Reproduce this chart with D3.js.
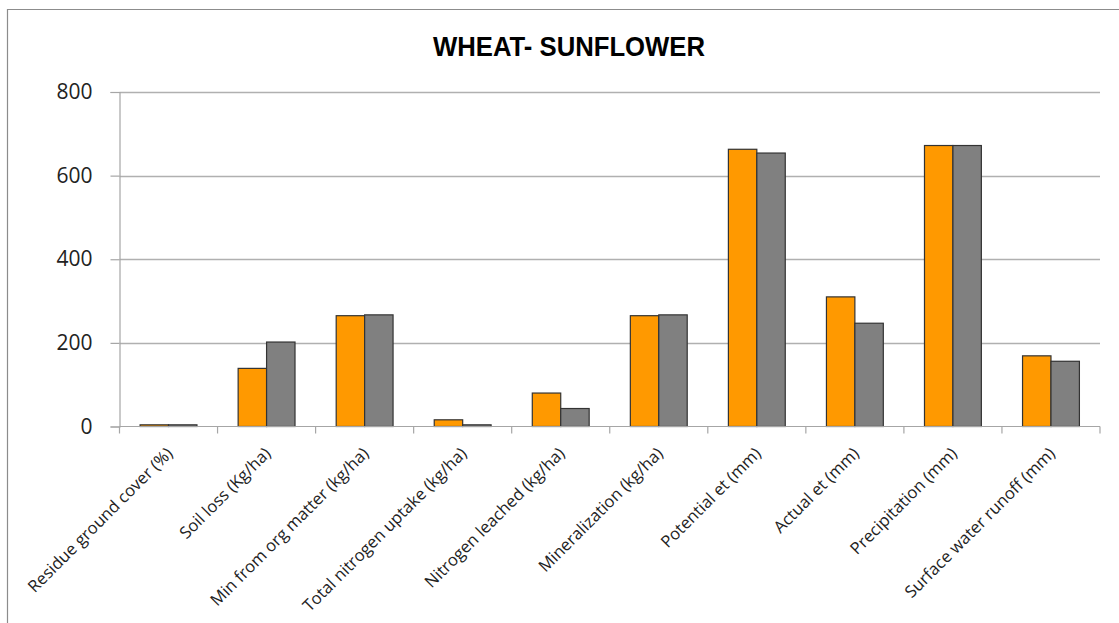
<!DOCTYPE html>
<html>
<head>
<meta charset="utf-8">
<script src="https://cdn.jsdelivr.net/npm/d3@7"></script>
<style>
  html, body { margin: 0; padding: 0; background: #fff; }
  svg { display: block; }
</style>
</head>
<body>
<svg id="chart" width="1119" height="623"></svg>
<script>
// Indicators compared for the wheat–sunflower rotation
const categories = [
  "Residue ground cover (%)",
  "Soil loss (Kg/ha)",
  "Min from org matter (kg/ha)",
  "Total nitrogen uptake (kg/ha)",
  "Nitrogen leached (kg/ha)",
  "Mineralization (kg/ha)",
  "Potential et (mm)",
  "Actual et (mm)",
  "Precipitation (mm)",
  "Surface water runoff (mm)"
];
const seriesOrange = [4, 139, 265, 16, 80, 265, 663, 310, 672, 169];
const seriesGray   = [4, 202, 267, 4, 43, 267, 654, 247, 672, 156];
const yTicks = [0, 200, 400, 600, 800];
const title = "WHEAT- SUNFLOWER";

const svg = d3.select("#chart");

// chart frame
svg.append("path")
  .attr("d", "M7.5,640 V9.5 H1130")
  .attr("fill", "none")
  .attr("stroke", "#8c8c8c")
  .attr("stroke-width", 1.2);

// title
svg.append("text")
  .attr("x", 569)
  .attr("y", 56)
  .attr("text-anchor", "middle")
  .attr("font-family", "'Liberation Sans', Arial, sans-serif")
  .attr("font-weight", "bold")
  .attr("font-size", 27)
  .attr("textLength", 272)
  .attr("lengthAdjust", "spacingAndGlyphs")
  .attr("fill", "#000")
  .text(title);

const plot = { left: 119.5, right: 1100, top: 92, bottom: 426.5 };

const x = d3.scaleBand()
  .domain(categories)
  .range([plot.left, plot.right])
  .paddingInner(0.42)
  .paddingOuter(0.21);

const xSeries = d3.scaleBand()
  .domain(["orange", "gray"])
  .range([0, x.bandwidth()]);

const y = d3.scaleLinear()
  .domain([0, 800])
  .range([plot.bottom, plot.top]);

// horizontal gridlines
svg.append("g")
  .selectAll("line")
  .data(yTicks.filter(d => d > 0))
  .join("line")
  .attr("x1", plot.left)
  .attr("x2", plot.right)
  .attr("y1", d => Math.round(y(d)) + 0.5)
  .attr("y2", d => Math.round(y(d)) + 0.5)
  .attr("stroke", "#b0b0b0")
  .attr("stroke-width", 1.5);

// y axis
const yAxis = svg.append("g")
  .attr("transform", `translate(${plot.left},0)`)
  .call(d3.axisLeft(y).tickValues(yTicks).tickSize(9).tickPadding(18).tickFormat(d3.format("d")));
yAxis.select(".domain").attr("stroke", "#a6a6a6").attr("stroke-width", 1.2);
yAxis.selectAll(".tick line").attr("stroke", "#a6a6a6").attr("stroke-width", 1.2);
yAxis.selectAll(".tick text")
  .attr("font-family", "'Open Sans', sans-serif")
  .attr("font-size", 21)
  .attr("fill", "#222");

// bars
const groups = svg.append("g")
  .selectAll("g")
  .data(categories.map((c, i) => ({ c, vals: [
    { key: "orange", v: seriesOrange[i], fill: "#ff9900" },
    { key: "gray", v: seriesGray[i], fill: "#808080" }
  ] })))
  .join("g")
  .attr("transform", d => `translate(${x(d.c)},0)`);

groups.selectAll("rect")
  .data(d => d.vals)
  .join("rect")
  .attr("x", d => xSeries(d.key))
  .attr("width", xSeries.bandwidth())
  .attr("y", d => y(d.v))
  .attr("height", d => y(0) - y(d.v))
  .attr("fill", d => d.fill)
  .attr("stroke", "#333")
  .attr("stroke-width", 1.2);

// x axis with tick marks at category boundaries
const xAxisG = svg.append("g");
xAxisG.append("line")
  .attr("x1", plot.left).attr("x2", plot.right)
  .attr("y1", plot.bottom).attr("y2", plot.bottom)
  .attr("stroke", "#a6a6a6").attr("stroke-width", 1.2);
const step = x.step();
const boundaries = d3.range(categories.length + 1).map(i => plot.left + i * step);
xAxisG.selectAll("line.tick")
  .data(boundaries)
  .join("line")
  .attr("class", "tick")
  .attr("x1", d => d).attr("x2", d => d)
  .attr("y1", plot.bottom).attr("y2", plot.bottom + 7)
  .attr("stroke", "#a6a6a6").attr("stroke-width", 1.2);

// rotated category labels
xAxisG.selectAll("text")
  .data(categories)
  .join("text")
  .attr("transform", d => `translate(${x(d) + x.bandwidth() / 2 + 1},${plot.bottom + 24}) rotate(-45)`)
  .attr("text-anchor", "end")
  .attr("dy", "0.35em")
  .attr("font-family", "'Open Sans', sans-serif")
  .attr("font-size", 16.6)
  .attr("fill", "#222")
  .text(d => d);
</script>
</body>
</html>
